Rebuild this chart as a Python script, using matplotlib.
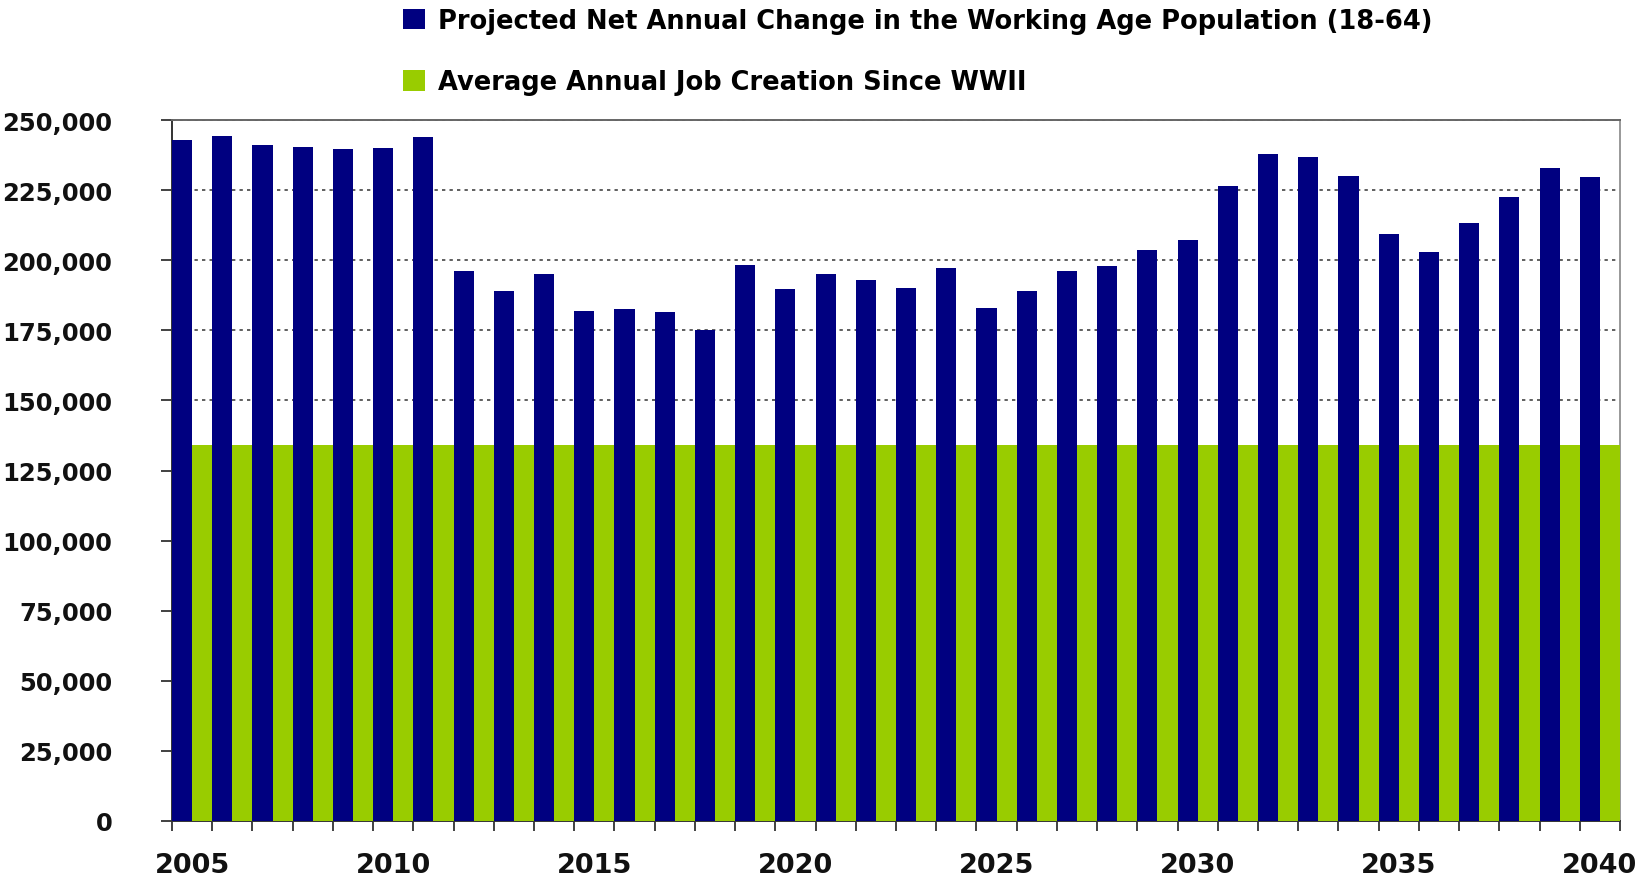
import numpy as np
import matplotlib
matplotlib.use("Agg")
import matplotlib.pyplot as plt
from matplotlib.patches import Patch
from matplotlib.ticker import FuncFormatter, MultipleLocator

years = list(range(2005, 2041))
working_age_change = [
    242900, 244400, 241100, 240500, 239600, 240100, 243900,
    196100, 189000, 195100, 181800, 182600, 181700, 175100,
    198400, 189600, 195100, 193100, 190100, 197300, 183000,
    189000, 196100, 197900, 203600, 207100, 226500, 237900,
    236900, 230100, 209500, 203000, 213100, 222400, 233000, 229500,
]
avg_job_creation = [134000] * len(years)
year_labels = ["2005", "2010", "2015", "2020", "2025", "2030", "2035", "2040"]
legend_labels = [
    "Projected Net Annual Change in the Working Age Population (18-64)",
    "Average Annual Job Creation Since WWII",
]

navy = "#000080"
green = "#99CC00"

plt.rcParams["font.family"] = ["DejaVu Sans"]
plt.rcParams["font.weight"] = "bold"

W, H = 1651, 879
fig = plt.figure(figsize=(W / 100, H / 100), dpi=100)
ax = fig.add_axes([172 / W, 1 - 822 / H, (1620 - 172) / W, (822 - 121) / H])

x = np.arange(len(years))
ax.bar(x - 0.25, working_age_change, width=0.5, color=navy, zorder=3, linewidth=0)
ax.bar(x + 0.25, avg_job_creation, width=0.5, color=green, zorder=3, linewidth=0)

ax.set_xlim(-0.5, len(years) - 0.5)
ax.set_ylim(0, 250000)
ax.yaxis.set_major_locator(MultipleLocator(25000))
ax.yaxis.set_major_formatter(FuncFormatter(lambda v, p: f"{int(v):,}"))
ax.grid(axis="y", color="#444444", linestyle=(0, (2, 2.5)), linewidth=1.2, zorder=0)

major_pos = [years.index(int(y)) for y in year_labels]
ax.set_xticks(major_pos)
ax.set_xticklabels(year_labels)
ax.set_xticks(np.arange(-0.5, len(years)), minor=True)
ax.tick_params(axis="x", which="major", length=0, pad=22, labelsize=19.5)
ax.tick_params(axis="x", which="minor", length=7.5, width=1.3, color="#333333", direction="out")
ax.tick_params(axis="y", length=8, width=1.3, color="#333333", pad=35, labelsize=17.5)
for lab in ax.get_xticklabels() + ax.get_yticklabels():
    lab.set_fontweight("bold")
    lab.set_color("#111111")

ax.spines["left"].set_color("#333333")
ax.spines["bottom"].set_color("#333333")
ax.spines["top"].set_color("#666666")
ax.spines["right"].set_color("#999999")
for s in ax.spines.values():
    s.set_linewidth(1.4)

handles = [Patch(facecolor=navy), Patch(facecolor=green)]
fig.legend(handles, legend_labels, loc="upper left",
           bbox_to_anchor=(403 / W, 1 - 9 / H), frameon=False,
           prop={"weight": "bold", "size": 18.5},
           borderpad=0, borderaxespad=0,
           handlelength=0.86, handleheight=0.86, handletextpad=0.5,
           labelspacing=1.38)

fig.savefig("out.png", dpi=100)
